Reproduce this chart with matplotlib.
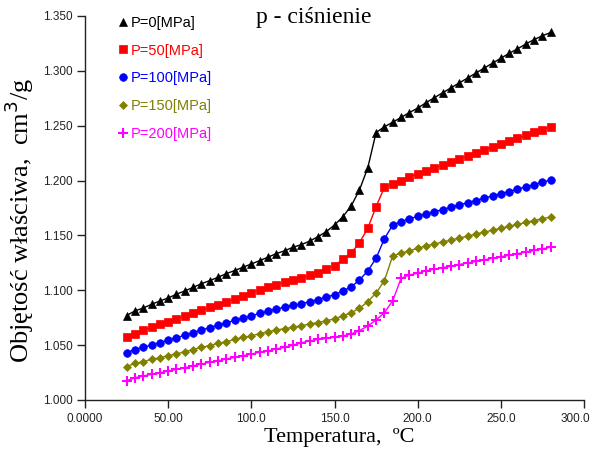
import numpy as np
import matplotlib
matplotlib.use("Agg")
import matplotlib.pyplot as plt
import matplotlib.transforms as mtransforms
from matplotlib.ticker import MultipleLocator, FormatStrFormatter

# temperature [C], every 5 degrees
temp = list(range(25, 281, 5))

# specific volume [cm3/g] for each pressure
v_p0 = [1.0770, 1.0812, 1.0838, 1.0872, 1.0902, 1.0930, 1.0964, 1.0994, 1.1026, 1.1060,
        1.1088, 1.1119, 1.1152, 1.1180, 1.1210, 1.1240, 1.1270, 1.1302, 1.1334, 1.1360,
        1.1392, 1.1415, 1.1448, 1.1488, 1.1534, 1.1595, 1.1670, 1.1768, 1.1914, 1.2116,
        1.2438, 1.2490, 1.2532, 1.2575, 1.2620, 1.2660, 1.2710, 1.2755, 1.2800, 1.2845,
        1.2890, 1.2935, 1.2980, 1.3025, 1.3070, 1.3115, 1.3160, 1.3200, 1.3245, 1.3285,
        1.3320, 1.3350]
v_p50 = [1.0578, 1.0606, 1.0636, 1.0663, 1.0690, 1.0714, 1.0738, 1.0765, 1.0790, 1.0818,
         1.0845, 1.0870, 1.0896, 1.0921, 1.0950, 1.0977, 1.1003, 1.1027, 1.1050, 1.1072,
         1.1095, 1.1110, 1.1135, 1.1160, 1.1192, 1.1225, 1.1283, 1.1337, 1.1434, 1.1565,
         1.1762, 1.1939, 1.1969, 1.1999, 1.2033, 1.2060, 1.2088, 1.2115, 1.2140, 1.2168,
         1.2195, 1.2222, 1.2250, 1.2278, 1.2305, 1.2332, 1.2360, 1.2386, 1.2412, 1.2440,
         1.2465, 1.2490]
v_p100 = [1.0431, 1.0460, 1.0480, 1.0501, 1.0522, 1.0546, 1.0568, 1.0590, 1.0613, 1.0638,
          1.0660, 1.0682, 1.0702, 1.0727, 1.0745, 1.0766, 1.0790, 1.0810, 1.0830, 1.0845,
          1.0862, 1.0878, 1.0895, 1.0915, 1.0937, 1.0960, 1.0993, 1.1030, 1.1094, 1.1176,
          1.1292, 1.1470, 1.1595, 1.1625, 1.1650, 1.1674, 1.1695, 1.1715, 1.1736, 1.1756,
          1.1778, 1.1798, 1.1818, 1.1840, 1.1860, 1.1880, 1.1900, 1.1922, 1.1942, 1.1962,
          1.1985, 1.2005]
v_p150 = [1.0304, 1.0333, 1.0349, 1.0370, 1.0386, 1.0404, 1.0420, 1.0440, 1.0460, 1.0480,
          1.0496, 1.0516, 1.0531, 1.0552, 1.0570, 1.0585, 1.0605, 1.0622, 1.0638, 1.0650,
          1.0662, 1.0677, 1.0692, 1.0706, 1.0722, 1.0740, 1.0766, 1.0796, 1.0836, 1.0896,
          1.0975, 1.1088, 1.1315, 1.1337, 1.1360, 1.1383, 1.1405, 1.1422, 1.1440, 1.1458,
          1.1476, 1.1494, 1.1512, 1.1530, 1.1548, 1.1565, 1.1583, 1.1600, 1.1618, 1.1636,
          1.1652, 1.1668]
v_p200 = [1.0176, 1.0203, 1.0219, 1.0234, 1.0249, 1.0264, 1.0280, 1.0294, 1.0312, 1.0328,
          1.0344, 1.0358, 1.0374, 1.0389, 1.0404, 1.0419, 1.0435, 1.0449, 1.0465, 1.0480,
          1.0500, 1.0522, 1.0538, 1.0552, 1.0562, 1.0572, 1.0584, 1.0602, 1.0632, 1.0675,
          1.0729, 1.0796, 1.0905, 1.1109, 1.1140, 1.1155, 1.1178, 1.1192, 1.1206, 1.1220,
          1.1235, 1.1249, 1.1263, 1.1277, 1.1292, 1.1306, 1.1320, 1.1334, 1.1349, 1.1363,
          1.1378, 1.1393]

labels = ["P=0[MPa]", "P=50[MPa]", "P=100[MPa]", "P=150[MPa]", "P=200[MPa]"]
x_ticks = [0, 50, 100, 150, 200, 250, 300]
x_tick_labels = ["0.0000", "50.00", "100.0", "150.0", "200.0", "250.0", "300.0"]

series = [v_p0, v_p50, v_p100, v_p150, v_p200]
colors = ["black", "#FF0000", "#0000FF", "#808000", "#FF00FF"]
markers = ["^", "s", "o", "D", "+"]
msizes = [6, 5.5, 5.5, 4.5, 7]

fig = plt.figure(figsize=(5.92, 4.51), dpi=100)
ax = fig.add_axes([85 / 592, 1 - 400 / 451, 499 / 592, 384 / 451])

for vals, c, m, ms, lab in zip(series, colors, markers, msizes, labels):
    ax.plot(temp, vals, color=c, marker=m, markersize=ms, linewidth=1,
            markeredgewidth=1.5 if m == "+" else 0.5, label=lab)

ax.set_xlim(0, 300)
ax.set_ylim(1.0, 1.35)
ax.set_xticks(x_ticks)
ax.set_xticklabels(x_tick_labels)
ax.yaxis.set_major_locator(MultipleLocator(0.05))
ax.yaxis.set_major_formatter(FormatStrFormatter("%.3f"))

for s in ["top", "right"]:
    ax.spines[s].set_visible(False)
for s in ["left", "bottom"]:
    ax.spines[s].set_color("#222222")
    ax.spines[s].set_linewidth(1)
ax.tick_params(direction="out", length=6, width=1, color="#222222",
               labelsize=8.5, labelcolor="#222222", pad=3)
for t in ax.get_xticklabels() + ax.get_yticklabels():
    t.set_fontfamily("Liberation Sans")

# last x label sits a bit to the left of its tick, as in the original
last = ax.get_xticklabels()[-1]
last.set_transform(last.get_transform() +
                   mtransforms.ScaledTranslation(-9 / 100, 0, fig.dpi_scale_trans))

ax.set_xlabel("Temperatura,  ºC", fontfamily="Liberation Serif", fontsize=16)
ax.xaxis.set_label_coords((339 - 85) / 499, -0.072)
ax.set_ylabel("Objętość właściwa,  cm$^3$/g", fontfamily="Liberation Serif",
              fontsize=19)
ax.yaxis.set_label_coords((36 - 85) / 499, (400 - 220) / 384)

fig.text(314 / 592, 1 - 18 / 451, "p - ciśnienie", fontfamily="Liberation Serif",
         fontsize=17, ha="center", va="center")

leg = ax.legend(loc="upper left", bbox_to_anchor=(0.042, 1.035), frameon=False,
                handlelength=0.5, handletextpad=0.3, labelspacing=0.95,
                prop={"family": "Liberation Sans", "size": 10.5}, labelcolor="linecolor",
                numpoints=1)
for h in leg.legend_handles:
    h.set_linestyle("none")

fig.savefig("out.png", dpi=100)
